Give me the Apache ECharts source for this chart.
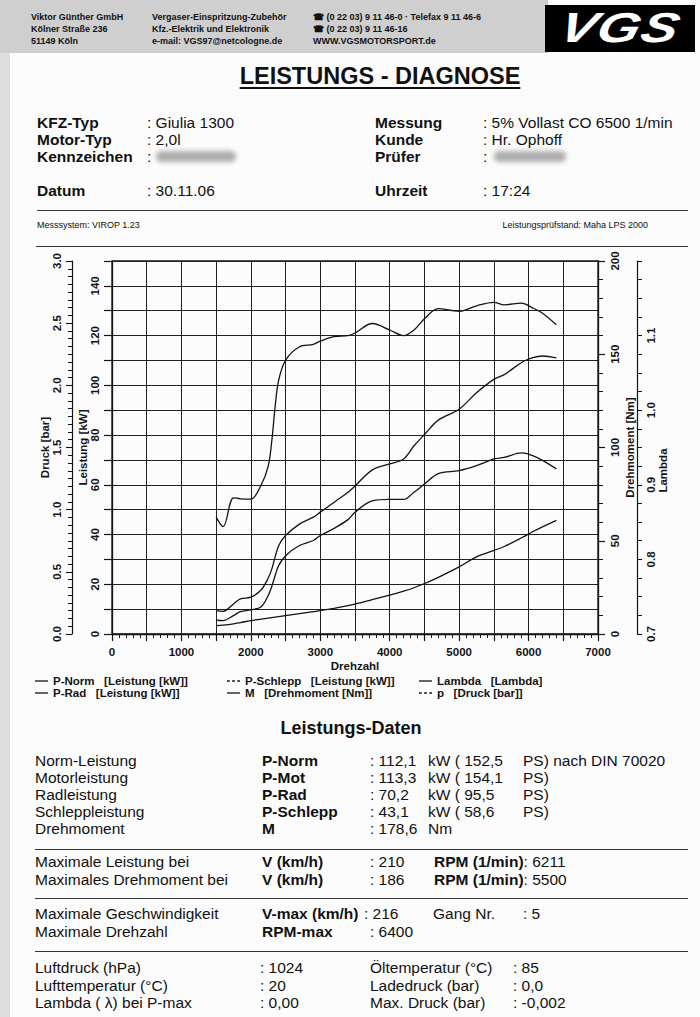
<!DOCTYPE html>
<html><head><meta charset="utf-8">
<script src="https://cdn.jsdelivr.net/npm/echarts@6/dist/echarts.min.js"></script>
<style>
html,body{margin:0;padding:0;background:#fff;}
#page{position:relative;width:700px;height:1017px;overflow:hidden;background:#fcfcfc;font-family:"Liberation Sans",Arial,sans-serif;color:#111;}
#chart{position:absolute;left:0;top:0;width:700px;height:1017px;}
.t{position:absolute;white-space:pre;line-height:1;}
.hr{position:absolute;height:0;border-top:1.5px solid #333;}
</style></head><body>
<div id="page">
 <div style="position:absolute;left:0;top:0;width:10px;height:1017px;background:#dedede"></div>
 <div style="position:absolute;left:0;top:0;width:548px;height:53px;background:#cfcfcf"></div>
 <div style="position:absolute;left:545px;top:5px;width:150px;height:47px;background:#000"></div>
 <div style="position:absolute;left:545px;top:4px;width:150px;height:49px;line-height:49px;text-align:center;color:#fff;font:italic bold 42px 'Liberation Sans',Arial,sans-serif;letter-spacing:1px;transform:scaleX(1.3) skewX(-12deg)">VGS</div>
 <div style="position:absolute;left:156px;top:151px;width:80px;height:11px;background:#999;border-radius:5px;filter:blur(2.5px);opacity:.8"></div>
 <div style="position:absolute;left:494px;top:151px;width:72px;height:11px;background:#999;border-radius:5px;filter:blur(2.5px);opacity:.8"></div>
 <div id="chart"></div>
 <div id="texts"></div>
</div>
<script>
// ---- chart data ----
const rpm      = [1500,1600,1750,1850,2000,2150,2250,2300,2350,2400,2500,2700,2900,3000,3200,3400,3500,3750,4000,4200,4350,4500,4700,5000,5250,5500,5650,5900,6050,6200,6400];
const pNorm    = [9.4,9.1,12.1,14.1,14.8,17.8,22.5,26,31,35.5,39.6,44.2,47,49,53,57,59.5,66,68.4,70.4,75.7,80.2,86,90.4,97,102.4,104.3,109.2,111,111.8,111];
const pRad     = [5.6,5.4,7.4,9,9.7,11,15.5,19,23.5,27.5,31.5,35.6,37.6,39.6,42.5,46,49,53.5,54.1,54.1,57,60.3,64.5,65.7,67.7,70.4,71,72.8,71.8,69.8,66.4];
const pSchlepp = [3.4,3.6,4.1,4.6,5.4,6,6.4,6.6,6.8,7,7.4,8.2,9,9.4,10.3,11.4,12,13.8,15.6,17.2,18.6,20.3,22.8,27,31,33.6,35.2,38.7,41,43.1,45.7];
const torque   = [62.7,57.6,73,72.5,72.3,80,90,103,122,136,146.8,154,155.3,157,159.4,160,161.4,166.5,163,160,163,169,174.5,173,176,177.8,176.5,177.4,175,172,165.8];
const lambdaVals   = [];   // no lambda trace drawn
const pressureVals = [];   // no pressure trace drawn
// tick labels
const rpmTickLabels    = [0,1000,2000,3000,4000,5000,6000,7000];
const kwTickLabels     = [0,20,40,60,80,100,120,140];
const druckTickLabels  = ['0.0','0.5','1.0','1.5','2.0','2.5','3.0'];
const nmTickLabels     = [0,50,100,150,200];
const lambdaTickLabels = ['0.7','0.8','0.9','1.0','1.1'];

const F = "'Liberation Sans', Arial, sans-serif";
const INK = '#141414';
const pairs = v => v.map((y,i)=>[rpm[i], y]);
const lbl = {color:INK, fontFamily:F, fontWeight:'bold', fontSize:11.5};

const chart = echarts.init(document.getElementById('chart'), null, {renderer:'svg'});
const units = {'P-Norm':'Leistung [kW]','P-Rad':'Leistung [kW]','P-Schlepp':'Leistung [kW]','M':'Drehmoment [Nm]','Lambda':'Lambda','p':'Druck [bar]'};
const SOLID = 'path://M0,0h14v1h-14z';
const DASH  = 'path://M0,0h3v1h-3z M5.5,0h3v1h-3z M11,0h3v1h-3z';
function legendCfg(left, names){
  return {left:left, top:670, orient:'vertical', itemGap:0, itemWidth:13, itemHeight:1.3, symbolKeepAspect:false,
    data:names.map(n=>({name:n, icon:(n==='P-Schlepp'||n==='p')?DASH:SOLID})),
    formatter:n=>n+'   ['+units[n]+']',
    textStyle:{color:INK, fontFamily:F, fontWeight:'bold', fontSize:11.5, lineHeight:12}, selectedMode:false};
}
function ser(name, vals, yi){
  return {name, type:'line', xAxisIndex:0, yAxisIndex:yi, data:pairs(vals), smooth:0.35, symbol:'none',
    lineStyle:{color:INK, width:1.3}, itemStyle:{color:INK}, silent:true, animation:false};
}
const option = {
  animation:false,
  backgroundColor:'transparent',
  grid:{left:112, top:261, width:486, height:373, show:true, borderColor:INK, borderWidth:1.3, backgroundColor:'transparent'},
  legend:[legendCfg(30,['P-Norm','P-Rad']), legendCfg(222,['P-Schlepp','M']), legendCfg(414,['Lambda','p'])],
  xAxis:{type:'value', min:0, max:7000, interval:500,
    name:'Drehzahl', nameLocation:'middle', nameGap:26, nameMoveOverlap:false, nameTextStyle:lbl,
    axisLine:{lineStyle:{color:INK, width:1.3}},
    axisTick:{length:7, lineStyle:{color:INK, width:1.2}},
    minorTick:{show:true, splitNumber:5, length:4, lineStyle:{color:INK, width:1}},
    splitLine:{show:true, lineStyle:{color:'#222', width:1}},
    axisLabel:Object.assign({margin:12, formatter:v=>rpmTickLabels.includes(v)?String(v):''}, lbl)},
  yAxis:[
    {type:'value', position:'left', offset:0, min:0, max:150, interval:10,
      name:'Leistung [kW]', nameLocation:'middle', nameGap:23, nameMoveOverlap:false, nameRotate:90, nameTextStyle:lbl,
      axisLine:{show:true, lineStyle:{color:INK, width:1.3}},
      axisTick:{show:true, length:8, lineStyle:{color:INK, width:1.2}},
      splitLine:{show:true, lineStyle:{color:'#222', width:1}},
      axisLabel:Object.assign({rotate:90, margin:11, formatter:v=>kwTickLabels.includes(v)?String(v):''}, lbl)},
    {type:'value', position:'left', offset:40, min:0, max:3, interval:0.5,
      name:'Druck [bar]', nameLocation:'middle', nameGap:21, nameMoveOverlap:false, nameRotate:90, nameTextStyle:lbl,
      axisLine:{show:true, lineStyle:{color:INK, width:1.2}},
      axisTick:{show:true, length:6, lineStyle:{color:INK, width:1.1}},
      minorTick:{show:true, splitNumber:8, length:4, lineStyle:{color:INK, width:1}},
      splitLine:{show:false},
      axisLabel:Object.assign({rotate:90, margin:9, formatter:v=>{const s=v.toFixed(1);return druckTickLabels.includes(s)?s:'';}}, lbl)},
    {type:'value', position:'right', offset:0, min:0, max:200, interval:50,
      name:'Drehmoment [Nm]', nameLocation:'middle', nameGap:26, nameMoveOverlap:false, nameRotate:90, nameTextStyle:lbl,
      axisLine:{show:true, lineStyle:{color:INK, width:1.3}},
      axisTick:{show:true, length:7, lineStyle:{color:INK, width:1.2}},
      minorTick:{show:true, splitNumber:5, length:5, lineStyle:{color:INK, width:1}},
      splitLine:{show:false},
      axisLabel:Object.assign({rotate:90, margin:11, formatter:v=>nmTickLabels.includes(v)?String(v):''}, lbl)},
    {type:'value', position:'right', offset:39, min:0.7, max:1.2, interval:0.1,
      name:'Lambda', nameLocation:'middle', nameGap:20, nameMoveOverlap:false, nameRotate:90,
      nameTextStyle:Object.assign({padding:[0,46,0,0]}, lbl),
      axisLine:{show:true, lineStyle:{color:INK, width:1.2}},
      axisTick:{show:true, length:5, lineStyle:{color:INK, width:1.1}},
      minorTick:{show:true, splitNumber:4, length:5, lineStyle:{color:INK, width:1}},
      splitLine:{show:false},
      axisLabel:Object.assign({rotate:90, margin:8, formatter:v=>{const s=v.toFixed(1);return lambdaTickLabels.includes(s)?s:'';}}, lbl)}
  ],
  series:[
    ser('P-Norm', pNorm, 0),
    ser('P-Rad', pRad, 0),
    ser('P-Schlepp', pSchlepp, 0),
    ser('M', torque, 2),
    ser('Lambda', lambdaVals, 3),
    ser('p', pressureVals, 1)
  ]
};
chart.setOption(option);

// ---- document text ----
const T = [];
function t(x,y,s,size,bold,al,extra){T.push({x,y,s,size,bold,al,extra});}
// header
[['Viktor Günther GmbH','Kölner Straße 236','51149 Köln'],
 ['Vergaser-Einspritzung-Zubehör','Kfz.-Elektrik und Elektronik','e-mail: VGS97@netcologne.de'],
 ['☎ (0 22 03) 9 11 46-0 · Telefax 9 11 46-6','☎ (0 22 03) 9 11 46-16','WWW.VGSMOTORSPORT.de']
].forEach((col,ci)=>col.forEach((s,ri)=>t([31,152,313][ci],17+ri*12,s,9,1)));
t(380,77,'LEISTUNGS - DIAGNOSE',23.5,1,'c','text-decoration:underline;text-decoration-thickness:2px;text-underline-offset:3px;');
// info block
[['KFZ-Typ',': Giulia 1300',123],['Motor-Typ',': 2,0l',140],['Kennzeichen',': ',157],['Datum',': 30.11.06',191]]
 .forEach(r=>{t(37,r[2],r[0],15.5,1);t(147,r[2],r[1],15.5,0);});
[['Messung',': 5% Vollast CO 6500 1/min',123],['Kunde',': Hr. Ophoff',140],['Prüfer',': ',157],['Uhrzeit',': 17:24',191]]
 .forEach(r=>{t(375,r[2],r[0],15.5,1);t(483,r[2],r[1],15.5,0);});
t(37,225,'Messsystem: VIROP 1.23',9,0);
t(648,225,'Leistungsprüfstand: Maha LPS 2000',9,0,'r');
// data block
t(351,728,'Leistungs-Daten',18,1,'c');
const r1y=[761,778,795,812,829];
const r1=[['Norm-Leistung','P-Norm',': 112,1','kW ( 152,5','PS) nach DIN 70020'],
          ['Motorleistung','P-Mot',': 113,3','kW ( 154,1','PS)'],
          ['Radleistung','P-Rad',': 70,2','kW ( 95,5','PS)'],
          ['Schleppleistung','P-Schlepp',': 43,1','kW ( 58,6','PS)'],
          ['Drehmoment','M',': 178,6','Nm','']];
r1.forEach((r,i)=>{const y=r1y[i];t(35,y,r[0],15.5,0);t(262,y,r[1],15.5,1);t(370,y,r[2],15.5,0);t(428,y,r[3],15.5,0);if(r[4])t(523,y,r[4],15.5,0);});
[['Maximale Leistung bei','V (km/h)',': 210','6211',862],['Maximales Drehmoment bei','V (km/h)',': 186','5500',880]]
 .forEach(r=>{t(35,r[4],r[0],15.5,0);t(262,r[4],r[1],15.5,1);t(370,r[4],r[2],15.5,0);t(434,r[4],'<b>RPM (1/min)</b>: '+r[3],15.5,0);});
t(35,914,'Maximale Geschwindigkeit',15.5,0);t(262,914,'V-max (km/h)',15.5,1);t(364,914,': 216',15.5,0);t(433,914,'Gang Nr.',15.5,0);t(523,914,': 5',15.5,0);
t(35,932,'Maximale Drehzahl',15.5,0);t(262,932,'RPM-max',15.5,1);t(370,932,': 6400',15.5,0);
[['Luftdruck (hPa)',': 1024','Öltemperatur (°C)',': 85',968],['Lufttemperatur (°C)',': 20','Ladedruck (bar)',': 0,0',986],['Lambda ( λ) bei P-max',': 0,00','Max. Druck (bar)',': -0,002',1003]]
 .forEach(r=>{t(35,r[4],r[0],15.5,0);t(260,r[4],r[1],15.5,0);t(370,r[4],r[2],15.5,0);t(513,r[4],r[3],15.5,0);});

const box=document.getElementById('texts');
let html='';
T.forEach(o=>{
  const tr = o.al==='c'?'transform:translateX(-50%);':(o.al==='r'?'transform:translateX(-100%);':'');
  html+=`<div class="t" style="left:${o.x}px;top:${(o.y-0.5*o.size).toFixed(1)}px;font-size:${o.size}px;font-weight:${o.bold?'bold':'normal'};${tr}${o.extra||''}">${o.s}</div>`;
});
[[37,688,210],[36,688,246],[35,688,849],[35,688,898],[35,688,951]].forEach(l=>{html+=`<div class="hr" style="left:${l[0]}px;width:${l[1]-l[0]}px;top:${l[2]}px"></div>`;});
box.innerHTML=html;
</script>
</body></html>
